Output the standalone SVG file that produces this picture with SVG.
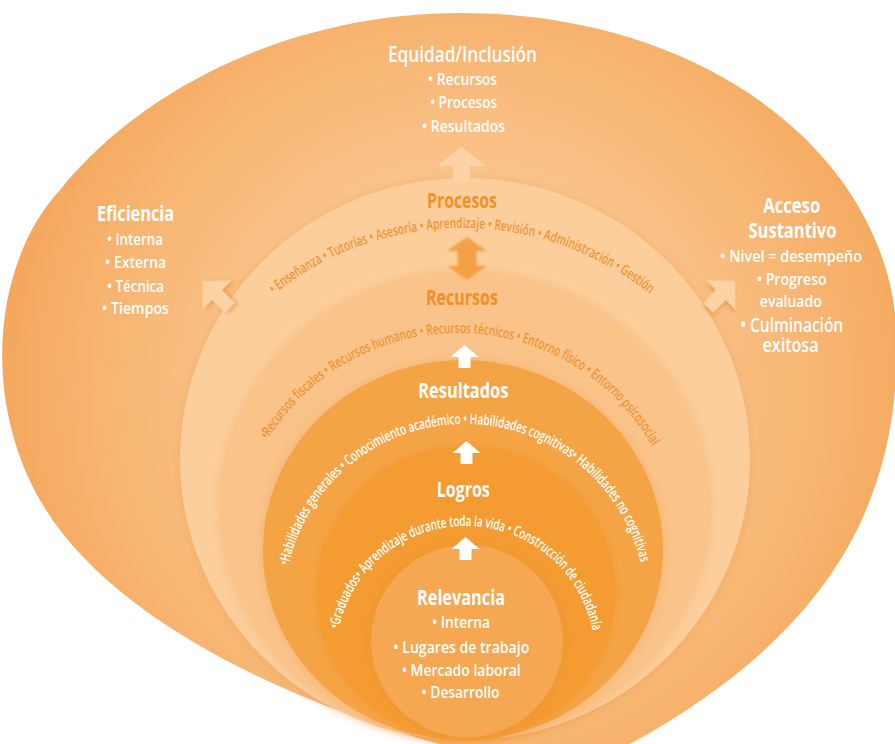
<svg xmlns="http://www.w3.org/2000/svg" width="895" height="744" viewBox="0 0 895 744">
<defs>
<radialGradient id="eggG" gradientUnits="userSpaceOnUse" cx="462" cy="390" r="470">
<stop offset="0" stop-color="#FCD4A6"/>
<stop offset="0.45" stop-color="#FAC48C"/>
<stop offset="0.8" stop-color="#F7B36E"/>
<stop offset="1" stop-color="#F4A65B"/>
</radialGradient>
<filter id="sh" x="-15%" y="-15%" width="130%" height="130%">
<feDropShadow dx="0" dy="0" stdDeviation="5" flood-color="#E3842A" flood-opacity="0.3"/>
</filter>
<filter id="ash" x="-40%" y="-40%" width="180%" height="180%">
<feDropShadow dx="2" dy="3" stdDeviation="2" flood-color="#E8892E" flood-opacity="0.55"/>
</filter>
<filter id="soft" x="-20%" y="-20%" width="140%" height="140%">
<feGaussianBlur stdDeviation="0.9"/>
</filter>
<path id="arcP" d="M273.9,294.1 A300.8,300.8 0 0 1 650.1,294.1"/>
<path id="arcR" d="M267.7,439.8 A223,223 0 0 1 651.9,445.9"/>
<path id="arcS" d="M288.6,565.8 A180.6,180.6 0 0 1 640.8,563.1"/>
<path id="arcL" d="M338.7,629 A129.5,129.5 0 0 1 592.6,630.8"/>
<polygon id="upA" points="0,0 14,12 6,12 6,23 -6,23 -6,12 -14,12"/>
<polygon id="diagA" points="0,0 21,20 7,20 7,38 -7,38 -7,20 -21,20"/>
</defs>
<style>
text{font-family:'Open Sans','Noto Sans','DejaVu Sans',sans-serif}
.w{fill:#FFFFFF}
.o{fill:#EF9129}
.t{font-weight:700}
.b{font-weight:600}
.arcw{font-size:14.5px;font-weight:600;fill:#FFFFFF}
.arco{font-size:14.5px;font-weight:600;fill:#F09535}
</style>

<g id="node-egg">
<path d="M460,13 C715,13 897,165 897,345 C897,520 815,650 600,760 L500,760 C350,725 120,640 40,500 C-20,395 -5,260 60,190 C140,90 290,13 460,13 Z" fill="url(#eggG)"/>
</g>

<g id="node-procesos">
<ellipse cx="465" cy="459" rx="285" ry="281" fill="#FCCE9C" filter="url(#sh)"/>
<text class="o t" x="462" y="208" font-size="21" text-anchor="middle" textLength="70" lengthAdjust="spacingAndGlyphs">Procesos</text>
<text class="arco"><textPath href="#arcP" textLength="406" lengthAdjust="spacingAndGlyphs">• Enseñanza • Tutorías • Asesoría • Aprendizaje • Revisión • Administración • Gestión</textPath></text>
</g>

<g id="node-recursos">
<ellipse cx="465" cy="506" rx="245" ry="234" fill="#FAC38A" filter="url(#sh)"/>
<text class="o t" x="462" y="305" font-size="21" text-anchor="middle" textLength="72" lengthAdjust="spacingAndGlyphs">Recursos</text>
<text class="arco"><textPath href="#arcR" textLength="463" lengthAdjust="spacingAndGlyphs">•Recursos fiscales • Recursos humanos • Recursos técnicos • Entorno físico • Entorno psicosocial</textPath></text>
</g>

<g id="node-resultados">
<ellipse cx="463" cy="550" rx="200" ry="190" fill="#F5A445" filter="url(#sh)"/>
<text class="w t" x="463.3" y="398" font-size="21" text-anchor="middle" textLength="90" lengthAdjust="spacingAndGlyphs">Resultados</text>
<text class="arcw"><textPath href="#arcS" textLength="486" lengthAdjust="spacingAndGlyphs">•Habilidades generales • Conocimiento académico • Habilidades cognitivas• Habilidades no cognitivas</textPath></text>
</g>

<g id="node-logros">
<ellipse cx="466" cy="593" rx="150" ry="148" fill="#F49B32" filter="url(#sh)"/>
<text class="w t" x="463.3" y="497" font-size="21" text-anchor="middle" textLength="53" lengthAdjust="spacingAndGlyphs">Logros</text>
<text class="arcw"><textPath href="#arcL" textLength="355" lengthAdjust="spacingAndGlyphs">•Graduados• Aprendizaje durante toda la vida • Construcción de ciudadanía</textPath></text>
</g>

<g id="node-relevancia">
<circle cx="467" cy="641" r="96" fill="#F5A851" filter="url(#sh)"/>
<text class="w t" x="461" y="605" font-size="21" text-anchor="middle" textLength="88" lengthAdjust="spacingAndGlyphs">Relevancia</text>
<text class="w b" x="461" y="628" font-size="17" text-anchor="middle" textLength="58" lengthAdjust="spacingAndGlyphs">• Interna</text>
<text class="w b" x="461.3" y="653" font-size="17" text-anchor="middle" textLength="136" lengthAdjust="spacingAndGlyphs">• Lugares de trabajo</text>
<text class="w b" x="461.2" y="676" font-size="17" text-anchor="middle" textLength="119" lengthAdjust="spacingAndGlyphs">• Mercado laboral</text>
<text class="w b" x="460.5" y="698" font-size="17" text-anchor="middle" textLength="78" lengthAdjust="spacingAndGlyphs">• Desarrollo</text>
</g>

<g id="node-equidad">
<text class="w b" x="462.5" y="62" font-size="21" text-anchor="middle" textLength="149" lengthAdjust="spacingAndGlyphs">Equidad/Inclusión</text>
<text class="w b" x="462.5" y="85" font-size="16" text-anchor="middle" textLength="69" lengthAdjust="spacingAndGlyphs">• Recursos</text>
<text class="w b" x="463.5" y="108" font-size="16" text-anchor="middle" textLength="67" lengthAdjust="spacingAndGlyphs">• Procesos</text>
<text class="w b" x="463.5" y="132" font-size="16" text-anchor="middle" textLength="83" lengthAdjust="spacingAndGlyphs">• Resultados</text>
</g>

<g id="node-eficiencia">
<text class="w t" x="135.5" y="221" font-size="21" text-anchor="middle" textLength="77" lengthAdjust="spacingAndGlyphs">Eficiencia</text>
<text class="w b" x="135" y="245" font-size="17" text-anchor="middle" textLength="56" lengthAdjust="spacingAndGlyphs">• Interna</text>
<text class="w b" x="135.5" y="268" font-size="17" text-anchor="middle" textLength="61" lengthAdjust="spacingAndGlyphs">• Externa</text>
<text class="w b" x="135.5" y="292" font-size="17" text-anchor="middle" textLength="57" lengthAdjust="spacingAndGlyphs">• Técnica</text>
<text class="w b" x="135.5" y="314" font-size="17" text-anchor="middle" textLength="67" lengthAdjust="spacingAndGlyphs">• Tiempos</text>
</g>

<g id="node-acceso">
<text class="w t" x="791.7" y="213" font-size="21" text-anchor="middle" textLength="57" lengthAdjust="spacingAndGlyphs">Acceso</text>
<text class="w t" x="792.5" y="238" font-size="21" text-anchor="middle" textLength="88" lengthAdjust="spacingAndGlyphs">Sustantivo</text>
<text class="w b" x="791" y="262" font-size="17" text-anchor="middle" textLength="142" lengthAdjust="spacingAndGlyphs">• Nivel = desempeño</text>
<text class="w b" x="791.7" y="285" font-size="17" text-anchor="middle" textLength="70" lengthAdjust="spacingAndGlyphs">• Progreso</text>
<text class="w b" x="790.8" y="307" font-size="17" text-anchor="middle" textLength="62" lengthAdjust="spacingAndGlyphs">evaluado</text>
<text class="w b" x="791.7" y="332" font-size="20" text-anchor="middle" textLength="103" lengthAdjust="spacingAndGlyphs">• Culminación</text>
<text class="w b" x="790.5" y="352" font-size="20" text-anchor="middle" textLength="56" lengthAdjust="spacingAndGlyphs">exitosa</text>
</g>

<g id="connectors">
<polygon points="461.5,147 486,166 470,166 470,182 453,182 453,166 437,166" fill="#FCD3A6"/>
<polygon points="467,237 487,251 476.5,251 476.5,266 487,266 467,280 447,266 457.5,266 457.5,251 447,251" fill="#F4A045" filter="url(#soft)"/>
<use href="#upA" x="464.5" y="345" fill="#FFFFFF"/>
<use href="#upA" x="466.5" y="441" fill="#FFFFFF"/>
<use href="#upA" x="465.5" y="537" fill="#FFFFFF"/>
<use href="#diagA" transform="translate(203,281) rotate(-45)" fill="#FCD3A5" filter="url(#ash)"/>
<use href="#diagA" transform="translate(735,281) rotate(45)" fill="#FCD3A5" filter="url(#ash)"/>
</g>
</svg>
